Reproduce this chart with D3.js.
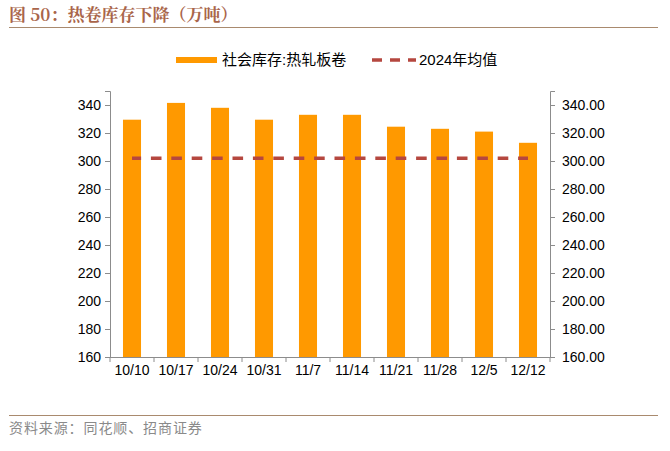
<!DOCTYPE html>
<html><head><meta charset="utf-8">
<script src="https://cdn.jsdelivr.net/npm/d3@7"></script>
<style>
html,body{margin:0;padding:0;background:#fff;}
svg{display:block;}
</style></head>
<body>
<svg id="chart" width="670" height="451"></svg>
<script>
const categories = ["10/10","10/17","10/24","10/31","11/7","11/14","11/21","11/28","12/5","12/12"];
const inventory = [329.5, 341.5, 338, 329.5, 333, 333, 324.5, 323, 321, 313];
const avg2024 = [302, 302, 302, 302, 302, 302, 302, 302, 302, 302];
const leftTicks = [160,180,200,220,240,260,280,300,320,340];
const seriesNames = ["社会库存:热轧板卷","2024年均值"];
const titleText = "图 50：热卷库存下降（万吨）";
const sourceText = "资料来源：同花顺、招商证券";

const svg = d3.select("#chart");
const L = 110, R = 550, T = 91, B = 357;
const font = "'Liberation Sans', Arial, sans-serif";
const cjk = "'Liberation Sans','Noto Sans CJK SC', sans-serif";

// title
svg.append("text").attr("x", 9).attr("y", 21)
  .attr("font-family", "'Noto Serif CJK SC','Noto Sans CJK SC', serif")
  .attr("font-weight", "bold").attr("font-size", 17).attr("fill", "#a9654a")
  .text(titleText);
svg.append("line").attr("x1", 9).attr("x2", 658).attr("y1", 27.5).attr("y2", 27.5)
  .attr("stroke", "#a98a6e").attr("stroke-width", 1.2);

const x = d3.scaleBand().domain(categories).range([L, R]).paddingInner(0.59).paddingOuter(0.295);
const y = d3.scaleLinear().domain([160, 350]).range([B, T]);

// bars
svg.append("g").selectAll("rect").data(categories).join("rect")
  .attr("x", d => x(d)).attr("width", x.bandwidth())
  .attr("y", (d,i) => y(inventory[i])).attr("height", (d,i) => y(160) - y(inventory[i]))
  .attr("fill", "#ff9900");

// average dashed line
const line = d3.line().x((d,i) => x(categories[i]) + x.bandwidth()/2).y(d => y(d));
svg.append("path").datum(avg2024).attr("d", line)
  .attr("fill", "none").attr("stroke", "#b5473f").attr("stroke-width", 3.5)
  .attr("stroke-dasharray", "10.6,9.8").attr("stroke-dashoffset", 1.5);

const axisColor = "#8c8c8c";
// left axis
const gl = svg.append("g").attr("transform", `translate(${L},0)`)
  .call(d3.axisLeft(y).tickValues(leftTicks).tickSize(5).tickPadding(4).tickFormat(d3.format("d")));
// right axis
const gr = svg.append("g").attr("transform", `translate(${R},0)`)
  .call(d3.axisRight(y).tickValues(leftTicks).tickSize(5).tickPadding(7).tickFormat(d3.format(".2f")));
// bottom axis (labels)
const gb = svg.append("g").attr("transform", `translate(0,${B})`)
  .call(d3.axisBottom(x).tickSize(0).tickPadding(8));
// bottom ticks at band edges
const edges = categories.map(c => x(c) - (x.step() - x.bandwidth())/2).concat([R]);
svg.append("g").selectAll("line").data(edges).join("line")
  .attr("x1", d => d).attr("x2", d => d).attr("y1", B).attr("y2", B + 5)
  .attr("stroke", axisColor);

[gl, gr, gb].forEach(g => {
  g.selectAll(".domain").attr("stroke", axisColor).attr("stroke-width", 1);
  g.selectAll(".tick line").attr("stroke", axisColor);
  g.selectAll("text").attr("font-family", font).attr("font-size", 14).attr("fill", "#000");
});
gb.select(".domain").attr("d", `M${L},0.5H${R}`);

// legend
const lg = svg.append("g");
lg.append("rect").attr("x", 176).attr("y", 57).attr("width", 41).attr("height", 6).attr("fill", "#ff9900");
lg.append("text").attr("x", 222).attr("y", 65).attr("font-family", cjk).attr("font-size", 15)
  .attr("fill", "#000").text(seriesNames[0]);
lg.append("line").attr("x1", 372).attr("x2", 416).attr("y1", 60).attr("y2", 60)
  .attr("stroke", "#b5473f").attr("stroke-width", 3.5).attr("stroke-dasharray", "10,8");
lg.append("text").attr("x", 419).attr("y", 65).attr("font-family", cjk).attr("font-size", 15)
  .attr("fill", "#000").text(seriesNames[1]);

// source
svg.append("line").attr("x1", 9).attr("x2", 658).attr("y1", 415.5).attr("y2", 415.5)
  .attr("stroke", "#a98a6e").attr("stroke-width", 1.2);
svg.append("text").attr("x", 9).attr("y", 433)
  .attr("font-family", "'Noto Sans CJK SC', sans-serif").attr("font-size", 14).attr("fill", "#8a8a8a")
  .attr("letter-spacing", 0.9)
  .text(sourceText);
</script>
</body></html>
